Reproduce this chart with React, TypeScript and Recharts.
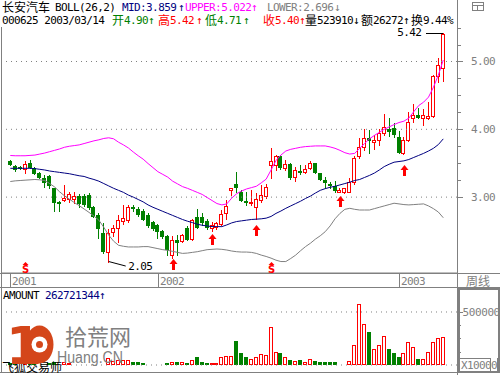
import React from 'react';
import { ComposedChart, Bar, Line, Scatter, XAxis, YAxis, ReferenceLine } from 'recharts';

// weekly candles, 长安汽车 000625
const opens = [
  3.54, 3.46, 3.45, 3.41, 3.50, 3.43, 3.36, 3.28, 3.31, 3.13,
  2.93, 2.96, 2.97, 2.97, 3.01, 3.01, 3.03, 2.85, 2.73, 2.47,
  2.19, 2.49, 2.54, 2.65, 2.66, 2.85, 2.83, 2.80, 2.73, 2.64,
  2.59, 2.50, 2.42, 2.15, 2.37, 2.35, 2.54, 2.38, 2.71, 2.70,
  2.65, 2.54, 2.56, 2.61, 2.76, 3.11, 3.20, 3.08, 2.95, 2.92,
  2.86, 2.96, 3.01, 3.48, 3.47, 3.61, 3.43, 3.49, 3.29, 3.39,
  3.37, 3.43, 3.50, 3.35, 3.25, 3.20, 3.17, 3.08, 3.07, 3.08,
  3.22, 3.61, 3.74, 3.87, 3.81, 3.84, 3.94, 4.01, 4.02, 3.89,
  3.65, 3.84, 4.17, 4.21, 4.16, 4.16, 4.19, 4.78, 4.90,
];
const highs = [
  3.55, 3.48, 3.46, 3.54, 3.55, 3.45, 3.37, 3.32, 3.32, 3.14,
  2.94, 3.18, 3.08, 3.08, 3.04, 3.04, 3.06, 2.87, 2.76, 2.62,
  2.53, 2.59, 2.74, 2.88, 2.88, 2.88, 2.85, 2.82, 2.76, 2.65,
  2.61, 2.52, 2.44, 2.42, 2.44, 2.46, 2.57, 2.68, 2.83, 2.76,
  2.67, 2.63, 2.64, 2.81, 2.96, 3.14, 3.37, 3.10, 3.08, 3.10,
  3.06, 3.18, 3.19, 3.72, 3.62, 3.62, 3.55, 3.50, 3.45, 3.48,
  3.47, 3.53, 3.51, 3.36, 3.29, 3.23, 3.24, 3.13, 3.14, 3.28,
  3.60, 3.87, 4.01, 3.99, 3.92, 4.01, 4.22, 4.16, 4.10, 3.97,
  3.88, 4.26, 4.37, 4.31, 4.30, 4.40, 4.80, 5.05, 5.42,
];
const lows = [
  3.47, 3.39, 3.41, 3.35, 3.43, 3.34, 3.28, 3.15, 3.14, 2.80,
  2.80, 2.94, 2.93, 2.91, 2.86, 2.87, 2.83, 2.70, 2.39, 2.18,
  2.05, 2.42, 2.34, 2.61, 2.64, 2.80, 2.72, 2.66, 2.56, 2.51,
  2.39, 2.39, 2.15, 2.10, 2.15, 2.34, 2.37, 2.37, 2.54, 2.59,
  2.53, 2.50, 2.53, 2.59, 2.68, 3.03, 3.08, 2.94, 2.88, 2.88,
  2.68, 2.93, 2.98, 3.28, 3.40, 3.42, 3.40, 3.27, 3.24, 3.34,
  3.35, 3.41, 3.35, 3.25, 3.14, 3.13, 3.07, 3.07, 3.06, 3.07,
  3.20, 3.57, 3.69, 3.65, 3.71, 3.77, 3.91, 3.90, 3.89, 3.65,
  3.64, 3.83, 4.11, 4.16, 4.06, 4.15, 4.18, 4.70, 4.71,
];
const closes = [
  3.49, 3.42, 3.43, 3.49, 3.44, 3.36, 3.29, 3.23, 3.18, 2.93,
  2.91, 2.98, 3.04, 3.01, 2.92, 2.90, 2.86, 2.72, 2.54, 2.20,
  2.47, 2.54, 2.66, 2.69, 2.86, 2.84, 2.75, 2.68, 2.59, 2.54,
  2.50, 2.42, 2.23, 2.37, 2.34, 2.44, 2.38, 2.66, 2.56, 2.63,
  2.56, 2.59, 2.62, 2.75, 2.87, 3.13, 3.15, 2.96, 2.93, 2.93,
  2.97, 3.03, 3.15, 3.53, 3.61, 3.45, 3.49, 3.29, 3.40, 3.37,
  3.42, 3.51, 3.37, 3.27, 3.22, 3.18, 3.10, 3.10, 3.13, 3.22,
  3.57, 3.74, 3.87, 3.84, 3.84, 3.94, 4.04, 3.98, 3.93, 3.67,
  3.84, 4.11, 4.21, 4.18, 4.21, 4.20, 4.78, 4.95, 5.40,
];
// AMOUNT (x1000)
const amounts = [
  20000, 15000, 12000, 18000, 15000, 16000, 14000, 12000, 15000, 25000,
  12000, 25000, 15000, 12000, 10000, 9000, 12000, 10000, 14000, 12700,
  70000, 40000, 50000, 50000, 50000, 32000, 32000, 19000, 12700, 9500,
  9500, 12700, 16000, 25300, 25300, 25300, 19000, 44000, 72800, 31600,
  19000, 16000, 16000, 76000, 82000, 82000, 231000, 114000, 72800, 53800,
  72800, 101000, 91800, 357600, 120000, 110800, 72800, 47500, 34800, 47500,
  25300, 53800, 38000, 28500, 28500, 28500, 28500, 9500, 6300, 38000,
  186700, 579000, 389000, 313000, 152000, 186700, 275000, 152000, 114000, 76000,
  114000, 218000, 168000, 57000, 57000, 123000, 218000, 256000, 262721,
];
// BOLL(26,2)
const mids = [
  3.425, 3.425, 3.425, 3.425, 3.425, 3.42, 3.41, 3.40, 3.385, 3.375,
  3.365, 3.355, 3.345, 3.33, 3.315, 3.305, 3.28, 3.26, 3.235, 3.20,
  3.165, 3.13, 3.10, 3.07, 3.03, 3.00, 2.965, 2.93, 2.885, 2.85,
  2.82, 2.79, 2.76, 2.73, 2.70, 2.67, 2.645, 2.625, 2.60, 2.585,
  2.575, 2.565, 2.565, 2.565, 2.59, 2.62, 2.64, 2.65, 2.66, 2.67,
  2.675, 2.68, 2.69, 2.715, 2.76, 2.795, 2.835, 2.87, 2.905, 2.94,
  2.98, 3.015, 3.06, 3.10, 3.125, 3.145, 3.16, 3.18, 3.20, 3.22,
  3.245, 3.26, 3.29, 3.32, 3.355, 3.40, 3.45, 3.485, 3.515, 3.525,
  3.535, 3.555, 3.585, 3.615, 3.645, 3.68, 3.72, 3.775, 3.859,
];
const uppers = [
  3.614, 3.61, 3.61, 3.61, 3.615, 3.62, 3.635, 3.65, 3.67, 3.69,
  3.71, 3.735, 3.75, 3.76, 3.77, 3.79, 3.81, 3.83, 3.845, 3.865,
  3.875, 3.86, 3.81, 3.77, 3.725, 3.665, 3.61, 3.56, 3.495, 3.435,
  3.375, 3.335, 3.295, 3.235, 3.195, 3.155, 3.13, 3.10, 3.07, 3.04,
  2.995, 2.95, 2.905, 2.885, 2.90, 2.985, 3.05, 3.09, 3.12, 3.14,
  3.16, 3.21, 3.265, 3.40, 3.54, 3.62, 3.68, 3.705, 3.72, 3.735,
  3.745, 3.75, 3.755, 3.755, 3.755, 3.74, 3.72, 3.69, 3.655, 3.635,
  3.645, 3.72, 3.79, 3.86, 3.91, 3.955, 4.00, 4.035, 4.07, 4.10,
  4.12, 4.165, 4.26, 4.35, 4.40, 4.475, 4.62, 4.80, 5.022,
];
const lowers = [
  3.23, 3.24, 3.245, 3.25, 3.255, 3.26, 3.255, 3.245, 3.20, 3.15,
  3.08, 3.02, 2.97, 2.92, 2.875, 2.825, 2.775, 2.72, 2.66, 2.555,
  2.44, 2.35, 2.29, 2.275, 2.265, 2.265, 2.265, 2.27, 2.27, 2.255,
  2.24, 2.225, 2.215, 2.20, 2.185, 2.17, 2.175, 2.185, 2.195, 2.21,
  2.225, 2.23, 2.235, 2.23, 2.22, 2.205, 2.195, 2.19, 2.19, 2.185,
  2.17, 2.145, 2.125, 2.10, 2.07, 2.05, 2.05, 2.095, 2.145, 2.21,
  2.27, 2.32, 2.38, 2.43, 2.49, 2.575, 2.68, 2.76, 2.82, 2.835,
  2.82, 2.81, 2.81, 2.81, 2.83, 2.85, 2.87, 2.89, 2.91, 2.90,
  2.89, 2.885, 2.89, 2.895, 2.90, 2.87, 2.83, 2.78, 2.696,
];

const yearTicks = [0, 30, 79];
const yearLabels = ['2001', '2002', '2003'];
const priceTicks = [3, 3.25, 3.5, 3.75, 4, 4.25, 4.5, 4.75, 5, 5.25, 5.5];
const priceGrid = [3, 4, 5];
const amountTicks = [125000, 250000, 375000, 500000];
const buyIdx = [33, 41, 50, 67, 80];
const buyLevels = [2.09, 2.45, 2.59, 3.02, 3.47];
const sellIdx = [3, 53];
const sellLevel = 2.04;

const RED = '#ff0000';
const GREEN = '#008000';
const NAVY = '#000080';
const MAGENTA = '#ff00ff';
const GRAY = '#808080';
const MONO = "'DejaVu Sans Mono', 'Noto Sans CJK SC', monospace";
const CJK = "'Noto Sans CJK SC', sans-serif";

const X_DOMAIN = [-1.687, 90.79];

const rows = opens.map((o, i) => ({
  i, o, h: highs[i], l: lows[i], c: closes[i],
  mid: mids[i], up: uppers[i], lo: lowers[i], amt: amounts[i],
}));

const last = rows[rows.length - 1];
let hiIdx = 0;
let loIdx = 0;
rows.forEach((r, i) => {
  if (r.h > rows[hiIdx].h) hiIdx = i;
  if (r.l < rows[loIdx].l) loIdx = i;
});
const extremes = [
  { i: hiIdx, p: highs[hiIdx], kind: 'hi' },
  { i: loIdx, p: lows[loIdx], kind: 'lo' },
];
const buyPts = buyIdx.map((i, k) => ({ i, p: buyLevels[k] }));
const sellPts = sellIdx.map((i) => ({ i, p: sellLevel }));

function Candle(props: any) {
  const { x, y, width, height, payload } = props;
  if (x == null || !payload) return null;
  const { o, h, l, c } = payload;
  const top = Math.min(y, y + height);
  const span = Math.abs(height);
  const k = h > l ? span / (h - l) : 0;
  const yO = top + (h - o) * k;
  const yC = top + (h - c) * k;
  const cx = Math.round(x + width / 2) + 0.5;
  const rising = c >= o;
  const col = rising ? RED : GREEN;
  const bTop = Math.round(Math.min(yO, yC)) + 0.5;
  const bBot = Math.max(bTop + 1, Math.round(Math.max(yO, yC)) + 0.5);
  return (
    <g shapeRendering="crispEdges">
      <line x1={cx} x2={cx} y1={Math.round(top)} y2={Math.round(top + span) + 1} stroke={col} />
      <rect x={cx - 2} y={bTop} width={3} height={bBot - bTop} fill={rising ? '#fff' : col} stroke={col} />
    </g>
  );
}

function AmountBar(props: any) {
  const { x, y, width, height, payload } = props;
  if (x == null || !payload) return null;
  const cx = Math.round(x + width / 2) + 0.5;
  const rising = payload.c >= payload.o;
  const col = rising ? RED : GREEN;
  const top = Math.round(y) + 0.5;
  const base = Math.round(y + height) - 0.5;
  if (base - top < 0) return null;
  return (
    <rect x={cx - 2} y={top} width={3} height={Math.max(0, base - top)}
      fill={rising ? '#fff' : col} stroke={col} shapeRendering="crispEdges" />
  );
}

function BuyArrow(props: any) {
  const { cx, cy } = props;
  const x = Math.round(cx) + 0.5;
  const t = Math.round(cy);
  return (
    <g fill={RED}>
      <polygon points={`${x},${t} ${x + 4},${t + 5} ${x - 4},${t + 5}`} />
      <rect x={x - 1.5} y={t + 5} width={3} height={6} shapeRendering="crispEdges" />
    </g>
  );
}

function SellMark(props: any) {
  const { cx, cy } = props;
  const x = Math.round(cx) + 0.5;
  const t = Math.round(cy);
  return (
    <g fill={RED}>
      <polygon points={`${x - 3},${t + 3} ${x},${t} ${x + 3},${t + 3}`} />
      <text x={x} y={t + 11} textAnchor="middle" fontSize={10} fontWeight="bold" fontFamily="'DejaVu Sans'">S</text>
      <line x1={x - 3} x2={x + 3} y1={t + 11.5} y2={t + 11.5} stroke={RED} />
    </g>
  );
}

function ExtremeMark(props: any) {
  const { cx, cy, payload } = props;
  if (cx == null || !payload) return null;
  const label = payload.p.toFixed(2);
  if (payload.kind === 'hi') {
    const y = Math.round(cy) + 0.5;
    return (
      <g>
        <line x1={cx - 17} x2={cx} y1={y} y2={y} stroke="#000" shapeRendering="crispEdges" />
        <text x={cx - 22} y={cy + 2.5} textAnchor="end" fontSize={11} letterSpacing={-0.6} fontFamily={MONO} fill="#000">{label}</text>
      </g>
    );
  }
  return (
    <g>
      <line x1={cx} y1={cy} x2={cx + 17} y2={cy + 4.5} stroke="#000" />
      <text x={cx + 19.5} y={cy + 8} fontSize={11} letterSpacing={-0.6} fontFamily={MONO} fill="#000">{label}</text>
    </g>
  );
}

function PriceTick(props: any) {
  const { y, payload } = props;
  const v = payload.value;
  const yy = Math.round(y) + 0.5;
  const whole = Math.abs(v - Math.round(v)) < 1e-6;
  return (
    <g>
      <line x1={457} x2={whole ? 463 : 461} y1={yy} y2={yy} stroke={GRAY} shapeRendering="crispEdges" />
      {whole && (
        <text x={471} y={y + 4} fill={GRAY} fontSize={11} letterSpacing={-0.6} fontFamily={MONO}>{v.toFixed(2)}</text>
      )}
    </g>
  );
}

function AmountTick(props: any) {
  const { y, payload } = props;
  const v = payload.value;
  const yy = Math.round(y) + 0.5;
  const major = v === 500000;
  return (
    <g>
      <line x1={458} x2={major ? 463 : 461} y1={yy} y2={yy} stroke={GRAY} shapeRendering="crispEdges" />
      {major && (
        <text x={462.5} y={y + 4} fill={GRAY} fontSize={11} letterSpacing={-0.4} fontFamily={MONO}>{v}</text>
      )}
    </g>
  );
}

function YearTick(props: any) {
  const { x, payload } = props;
  const k = yearTicks.indexOf(payload.value);
  const xx = Math.round(x) + 0.5;
  return (
    <g>
      <line x1={xx} x2={xx} y1={273} y2={288} stroke={GRAY} shapeRendering="crispEdges" />
      <text x={xx + 1.5} y={285} fill={GRAY} fontSize={11} letterSpacing={-0.6} fontFamily={MONO}>{yearLabels[k]}</text>
    </g>
  );
}

function HeaderText({ x, y, fill = '#000', cjk = false, children }: any) {
  return cjk ? (
    <text x={x} y={y + 0.5} fill={fill} fontSize={12} fontFamily={CJK}>{children}</text>
  ) : (
    <text x={x} y={y} fill={fill} fontSize={11} letterSpacing={-0.6} fontFamily={MONO}>{children}</text>
  );
}

export default function App() {
  const f2 = (v: number) => v.toFixed(2);
  const f3 = (v: number) => v.toFixed(3);
  return (
    <div style={{ position: 'absolute', left: 0, top: 0, width: 500, height: 375, background: '#fff', overflow: 'hidden' }}>
      {/* frame */}
      <svg width={500} height={375} style={{ position: 'absolute', left: 0, top: 0 }} shapeRendering="crispEdges">
        <line x1={457.5} x2={457.5} y1={0} y2={375} stroke={GRAY} />
        <line x1={1.5} x2={1.5} y1={27} y2={372} stroke={GRAY} />
        <line x1={0} x2={500} y1={273.5} y2={273.5} stroke={GRAY} />
        <line x1={0} x2={500} y1={287.5} y2={287.5} stroke={GRAY} />
        <line x1={0} x2={458} y1={372.5} y2={372.5} stroke={GRAY} />
        <rect x={458.5} y={289} width={40} height={83} fill="none" stroke={GRAY} strokeWidth={2} />
        <rect x={472.5} y={2.5} width={11} height={8} fill="none" stroke={GRAY} />
        <line x1={472.5} x2={483.5} y1={5.5} y2={5.5} stroke={GRAY} />
        <line x1={477.5} x2={477.5} y1={5.5} y2={10.5} stroke={GRAY} />
        <text x={466} y={285.5} fill={GRAY} fontSize={12} fontFamily={CJK}>周线</text>
        <rect x={459.5} y={358.5} width={31} height={13} fill="#fff" stroke={GRAY} />
        <text x={461} y={369} fill={GRAY} fontSize={11} letterSpacing={-0.6} fontFamily={MONO}>X1000</text>
        <text x={491} y={369} fill={GRAY} fontSize={11} fontFamily={MONO}>0</text>
        <line x1={497.5} x2={497.5} y1={358} y2={372} stroke={GRAY} />
      </svg>

      {/* price panel */}
      <div style={{ position: 'absolute', left: 0, top: 0 }}>
        <ComposedChart width={500} height={288} data={rows} margin={{ top: 20, right: 0, bottom: 0, left: 2 }}>
          <XAxis type="number" dataKey="i" domain={X_DOMAIN} allowDataOverflow ticks={yearTicks} interval={0}
            tick={(p: any) => <YearTick {...p} />} tickLine={false} axisLine={{ stroke: GRAY }} height={15} />
          <YAxis orientation="right" type="number" domain={[1.881, 5.612]} allowDataOverflow ticks={priceTicks}
            interval={0} tick={(p: any) => <PriceTick {...p} />} tickLine={false} axisLine={false} width={43} />
          {priceGrid.map((v) => (
            <ReferenceLine key={v} y={v} stroke={GRAY} strokeDasharray="1 4" />
          ))}
          <Line dataKey="up" stroke={MAGENTA} strokeWidth={1} dot={false} isAnimationActive={false} />
          <Line dataKey="mid" stroke={NAVY} strokeWidth={1} dot={false} isAnimationActive={false} />
          <Line dataKey="lo" stroke={GRAY} strokeWidth={1} dot={false} isAnimationActive={false} />
          <Bar dataKey={(d: any) => [d.l, d.h]} barSize={4} shape={(p: any) => <Candle {...p} />} isAnimationActive={false} />
          <Scatter data={buyPts} dataKey="p" shape={(p: any) => <BuyArrow {...p} />} isAnimationActive={false} />
          <Scatter data={sellPts} dataKey="p" shape={(p: any) => <SellMark {...p} />} isAnimationActive={false} />
          <Scatter data={extremes} dataKey="p" shape={(p: any) => <ExtremeMark {...p} />} isAnimationActive={false} />
        </ComposedChart>
      </div>

      {/* amount panel */}
      <div style={{ position: 'absolute', left: 0, top: 288 }}>
        <ComposedChart width={500} height={87} data={rows} margin={{ top: 0, right: 0, bottom: 10, left: 2 }}>
          <XAxis type="number" dataKey="i" domain={X_DOMAIN} allowDataOverflow hide />
          <YAxis orientation="right" type="number" domain={[0, 726400]} allowDataOverflow ticks={amountTicks}
            interval={0} tick={(p: any) => <AmountTick {...p} />} tickLine={false} axisLine={false} width={43} />
          <ReferenceLine y={500000} stroke={GRAY} strokeDasharray="1 4" />
          <ReferenceLine y={0} stroke={GRAY} strokeDasharray="1 4" />
          <Bar dataKey="amt" barSize={4} shape={(p: any) => <AmountBar {...p} />} isAnimationActive={false} />
        </ComposedChart>
      </div>

      {/* header */}
      <svg width={456} height={27} style={{ position: 'absolute', left: 0, top: 0 }}>
        <HeaderText x={2} y={11} cjk>长安汽车</HeaderText>
        <HeaderText x={55} y={11}>BOLL(26,2)</HeaderText>
        <HeaderText x={122} y={11} fill={NAVY}>{`MID:${f3(last.mid)}`}</HeaderText>
        <HeaderText x={178} y={11} fill={NAVY}>↑</HeaderText>
        <HeaderText x={185} y={11} fill={MAGENTA}>{`UPPER:${f3(last.up)}`}</HeaderText>
        <HeaderText x={251} y={11} fill={MAGENTA}>↑</HeaderText>
        <HeaderText x={267} y={11} fill={GRAY}>{`LOWER:${f3(last.lo)}`}</HeaderText>
        <HeaderText x={334} y={11} fill={GRAY}>↓</HeaderText>

        <HeaderText x={2} y={24}>000625 2003/03/14</HeaderText>
        <HeaderText x={112} y={24} fill={GREEN} cjk>开</HeaderText>
        <HeaderText x={124} y={24} fill={GREEN}>{f2(last.o)}</HeaderText>
        <HeaderText x={148} y={24} fill={GREEN}>↑</HeaderText>
        <HeaderText x={158} y={24} fill={RED} cjk>高</HeaderText>
        <HeaderText x={170} y={24} fill={RED}>{f2(last.h)}</HeaderText>
        <HeaderText x={196} y={24} fill={RED}>↑</HeaderText>
        <HeaderText x={205} y={24} fill={GREEN} cjk>低</HeaderText>
        <HeaderText x={217} y={24} fill={GREEN}>{f2(last.l)}</HeaderText>
        <HeaderText x={243} y={24} fill={GREEN}>↑</HeaderText>
        <HeaderText x={263} y={24} fill={RED} cjk>收</HeaderText>
        <HeaderText x={275} y={24} fill={RED}>{f2(last.c)}</HeaderText>
        <HeaderText x={299} y={24} fill={RED}>↑</HeaderText>
        <HeaderText x={305} y={24} cjk>量</HeaderText>
        <HeaderText x={317} y={24}>523910</HeaderText>
        <HeaderText x={353} y={24}>↓</HeaderText>
        <HeaderText x={361} y={24} cjk>额</HeaderText>
        <HeaderText x={373} y={24}>{String(Math.round(last.amt / 10))}</HeaderText>
        <HeaderText x={403} y={24}>↑</HeaderText>
        <HeaderText x={411} y={24} cjk>换</HeaderText>
        <HeaderText x={423} y={24}>9.44%</HeaderText>
      </svg>

      {/* amount title + watermark */}
      <svg width={457} height={87} style={{ position: 'absolute', left: 0, top: 288 }}>
        <text x={3} y={11} fill="#000" fontSize={11} letterSpacing={-0.6} fontFamily={MONO}>AMOUNT</text>
        <text x={45} y={11} fill={NAVY} fontSize={11} letterSpacing={-0.6} fontFamily={MONO}>262721344</text>
        <text x={99} y={11} fill={NAVY} fontSize={11} fontFamily={MONO}>↑</text>
        <text x={65} y={57} fill={GRAY} fontSize={22} fontFamily={CJK}>拾荒网</text>
        <text x={57} y={75} fill={GRAY} fontSize={16} fontFamily="'Liberation Sans', sans-serif" textLength={66} lengthAdjust="spacingAndGlyphs">Huang.CN</text>
        <text x={2} y={84} fill="#000" fontSize={12} fontFamily={CJK}>飞狐交易师</text>
        <text x={6} y={76} fill="#d4461a" fontSize={52} fontWeight="bold" fontFamily="'DejaVu Sans', sans-serif">1</text>
        <ellipse cx={39.5} cy={56.5} rx={14} ry={19} fill="#d4461a" />
        <circle cx={39.5} cy={56.5} r={8} fill="#fff" />
        <circle cx={39.5} cy={56.5} r={3.5} fill="#d4461a" />
      </svg>
    </div>
  );
}
